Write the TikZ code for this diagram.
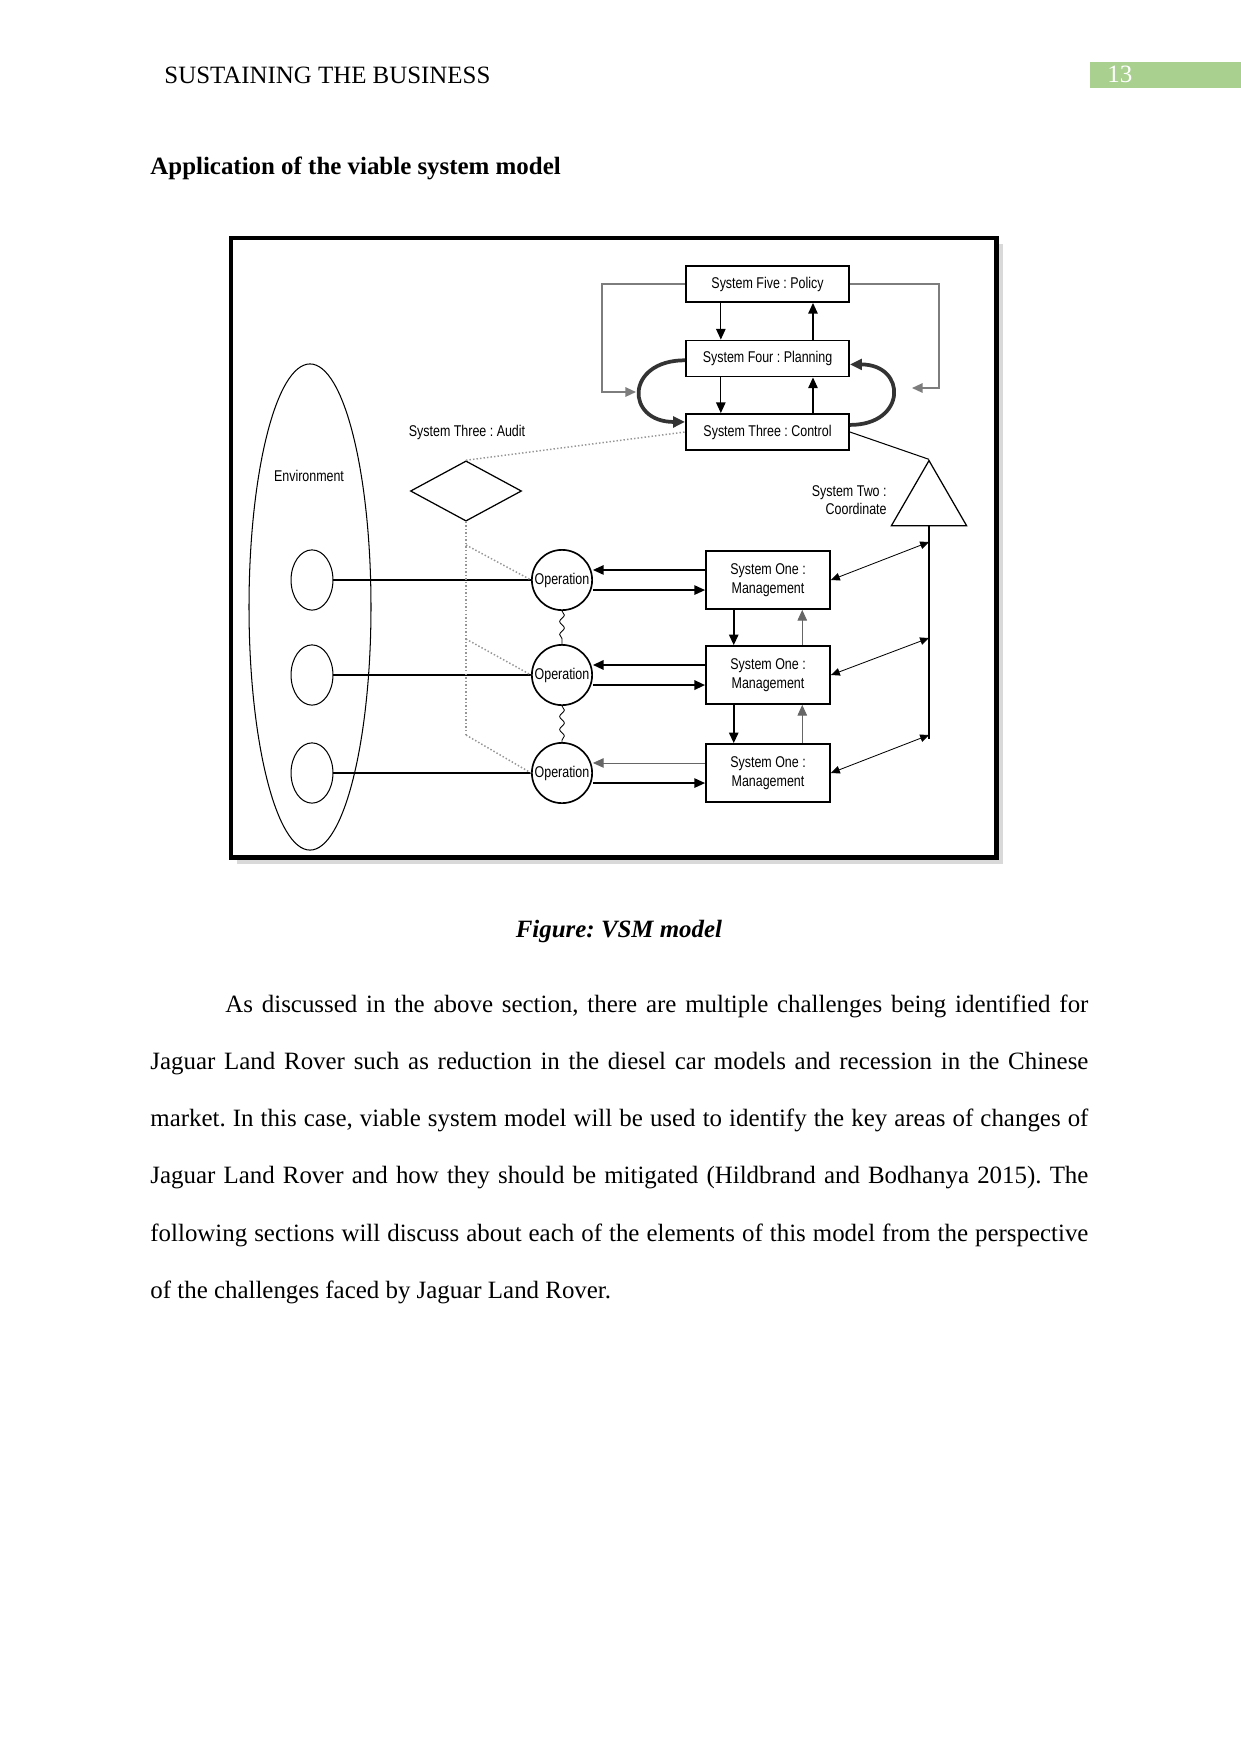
\documentclass[tikz,border=0pt,12pt]{standalone}
\usepackage{fontspec}
\setmainfont{Liberation Serif}
\newfontfamily\vsmfont{Liberation Sans}[FakeStretch=0.8]
\usepackage{tikz}
\usetikzlibrary{positioning, arrows.meta, shapes.geometric, decorations.pathmorphing, calc}
\definecolor{pagegreen}{RGB}{169,208,142}
\definecolor{loopgray}{RGB}{125,125,125}
\definecolor{auditgray}{RGB}{150,150,150}
\frenchspacing

\begin{document}
\begin{tikzpicture}[x=0.1693mm, y=-0.1693mm,
  pagetext/.style={inner sep=0pt, font=\fontsize{12}{13.8}\selectfont},
  sysbox/.style={draw, line width=0.9pt, minimum width=27.6mm, minimum height=6.1mm,
                 inner sep=0pt, font=\vsmfont\fontsize{7.5}{9}\selectfont},
  mgmt/.style={sysbox, minimum width=21mm, minimum height=9.8mm, align=center},
  opnode/.style={circle, draw, line width=0.8pt, minimum size=10.2mm, inner sep=0pt,
                 font=\vsmfont\fontsize{7.5}{9}\selectfont},
  envnode/.style={ellipse, draw, line width=0.5pt, minimum width=7.1mm, minimum height=10.2mm},
  lbl/.style={font=\vsmfont\fontsize{7.5}{9}\selectfont, inner sep=0pt},
  arr/.style={-{Triangle[length=1.8mm, width=1.6mm]}, line width=0.6pt},
  thinarr/.style={-{Triangle[length=1.8mm, width=1.6mm]}, line width=0.4pt, black!60},
  fb/.style={-{Triangle[length=1.8mm, width=1.6mm]}, line width=0.8pt, loopgray},
  loopy/.style={-{Triangle[length=2mm, width=1.8mm]}, line width=1.8pt, black!80},
  audit/.style={densely dotted, line width=0.7pt, auditgray},
  dbl/.style={{Triangle[length=1.5mm, width=1.3mm]}-{Triangle[length=1.5mm, width=1.3mm]}, line width=0.4pt},
  wave/.style={decorate, decoration={snake, amplitude=0.4mm, segment length=2.2mm}, line width=0.4pt}
]
  \fill[white] (0,0) rectangle (1241,1754);
  \useasboundingbox (0,0) rectangle (1241,1754);

  %% Page header
  \node[pagetext, anchor=base west] (hdr) at (164,83) {SUSTAINING THE BUSINESS};
  \fill[pagegreen] (1090,62) rectangle (1241,88);
  \node[pagetext, anchor=base west, text=white] (pgno) at (1107,82) {13};
  \node[pagetext, anchor=base west, font=\fontsize{12}{13.8}\selectfont\bfseries] (title) at (150,174)
    {Application of the viable system model};

  %% Figure frame
  \fill[black!15] (237,244) rectangle (1003,864);
  \filldraw[fill=white, line width=2.4pt] (231,238) rectangle (996,857);

  %% Systems five to three
  \node[sysbox] (s5) at (767.5,284)   {System Five : Policy};
  \node[sysbox] (s4) at (767.5,358.5) {System Four : Planning};
  \node[sysbox] (s3) at (767.5,432)   {System Three : Control};

  \draw[arr] ([xshift=-7.9mm]s5.south) -- ([xshift=-7.9mm]s4.north);
  \draw[arr] ([xshift=7.7mm]s4.north)  -- ([xshift=7.7mm]s5.south);
  \draw[arr] ([xshift=-7.9mm]s4.south) -- ([xshift=-7.9mm]s3.north);
  \draw[arr] ([xshift=7.7mm]s3.north)  -- ([xshift=7.7mm]s4.south);

  \coordinate (fbl) at (636,392);
  \coordinate (fbr) at (912,388);
  \draw[fb] (s5.west) -- ++(-83,0) |- (fbl);
  \draw[fb] (s5.east) -- ++(89,0) |- (fbr);

  \draw[loopy] ([yshift=-0.3mm]s4.west) .. controls +(-60,0) and +(-60,0) .. ([yshift=1.7mm]s3.west);
  \draw[loopy] ([yshift=1.2mm]s3.east) .. controls +(57,0) and +(57,0) .. ([yshift=-1mm]s4.east);

  %% Audit and coordination
  \node[lbl] (auditlbl) at (467,432) {System Three : Audit};
  \node[diamond, draw, line width=0.6pt, minimum width=18.8mm, minimum height=10.2mm, inner sep=0pt]
    (audit) at (466,491) {};
  \node[regular polygon, regular polygon sides=3, draw, line width=0.6pt, minimum size=14.7mm, inner sep=0pt]
    (coord) at (929,504) {};
  \node[lbl, anchor=east, align=right] (coordlbl) at (887,500) {System Two :\\Coordinate};
  \draw[line width=0.5pt] (s3.east) -- (coord.corner 1);
  \draw[audit] (audit.north) -- (s3.west);

  %% Environment
  \node[ellipse, draw, line width=0.5pt, minimum width=20.65mm, minimum height=82.3mm] (env) at (310,607) {};
  \node[lbl] (envlbl) at (309,476) {Environment};

  %% System one rows
  \foreach \i/\y in {1/580, 2/675, 3/773}{
    \node[envnode] (env\i) at (312,\y) {};
    \node[opnode] (op\i) at (562,\y) {Operation};
    \node[mgmt] (m\i) at (768,\y) {System One :\\Management};
  }

  \draw[line width=0.5pt] (env1.east) -- (op1.west);
  \draw[line width=0.5pt] (env2.east) -- (op2.west);
  \draw[line width=0.9pt] (env3.east) -- (op3.west);

  \draw[arr] ([yshift=1.7mm]m1.west) -- ([yshift=1.7mm]op1.east);
  \draw[arr] ([yshift=-1.7mm]op1.east) -- ([yshift=-1.7mm]m1.west);
  \draw[arr, line width=0.9pt] ([yshift=1.7mm]m2.west) -- ([yshift=1.7mm]op2.east);
  \draw[arr, line width=0.9pt] ([yshift=-1.7mm]op2.east) -- ([yshift=-1.7mm]m2.west);
  \draw[thinarr] ([yshift=1.7mm]m3.west) -- ([yshift=1.7mm]op3.east);
  \draw[arr] ([yshift=-1.7mm]op3.east) -- ([yshift=-1.7mm]m3.west);

  \draw[arr, line width=0.8pt] ([xshift=-5.8mm]m1.south) -- ([xshift=-5.8mm]m2.north);
  \draw[thinarr] ([xshift=5.8mm]m2.north) -- ([xshift=5.8mm]m1.south);
  \draw[arr, line width=0.8pt] ([xshift=-5.8mm]m2.south) -- ([xshift=-5.8mm]m3.north);
  \draw[thinarr] ([xshift=5.8mm]m3.north) -- ([xshift=5.8mm]m2.south);

  \draw[wave] (op1.south) -- (op2.north);
  \draw[wave] (op2.south) -- (op3.north);

  %% Audit channel
  \coordinate (b1) at (466,545);
  \coordinate (b2) at (466,639);
  \coordinate (b3) at (466,735);
  \draw[audit] (audit.south) -- (b3);
  \foreach \i in {1,2,3}{
    \draw[audit] (b\i) -- (op\i.west);
  }

  %% Coordination channel
  \coordinate (c1) at (929,542);
  \coordinate (c2) at (929,638);
  \coordinate (c3) at (929,735);
  \draw[line width=0.6pt] (coord.south) -- ([yshift=-0.6mm]c3);
  \foreach \i in {1,2,3}{
    \draw[dbl] (m\i.east) -- (c\i);
  }

  %% Caption and body text
  \node[pagetext, anchor=base, font=\fontsize{12}{13.8}\selectfont\bfseries\itshape] (cap) at (619,937)
    {Figure: VSM model};
  \node[pagetext, anchor=base west] (body) at (150,1012) {\parbox[t]{158.8mm}{%
    \baselineskip=27.6pt\parindent=12.7mm\indent
    As discussed in the above section, there are multiple challenges being identified for\linebreak
    Jaguar Land Rover such as reduction in the diesel car models and recession in the Chinese\linebreak
    market. In this case, viable system model will be used to identify the key areas of changes of\linebreak
    Jaguar Land Rover and how they should be mitigated (Hildbrand and Bodhanya 2015). The\linebreak
    following sections will discuss about each of the elements of this model from the perspective\linebreak
    of the challenges faced by Jaguar Land Rover.}};
\end{tikzpicture}
\end{document}
